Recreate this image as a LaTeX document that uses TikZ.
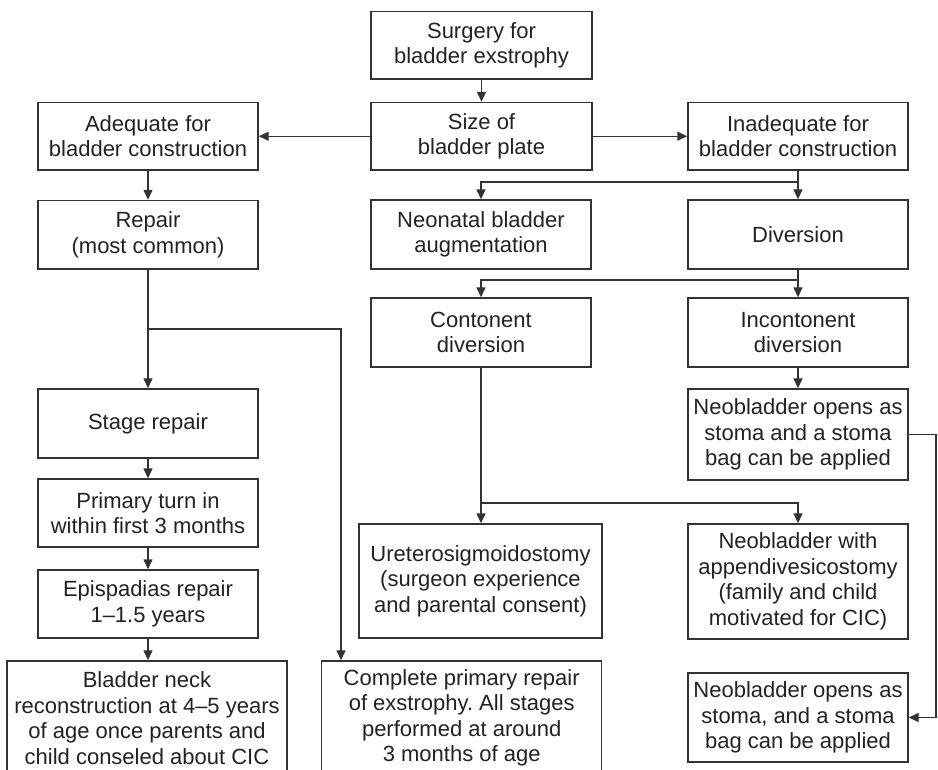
\documentclass[tikz,border=0pt]{standalone}
\usepackage{fontspec}
\setmainfont{Liberation Sans}
\usetikzlibrary{arrows.meta,calc}
\definecolor{linec}{HTML}{333333}
\definecolor{txtc}{HTML}{222222}
\begin{document}
\begin{tikzpicture}[x=1pt,y=-1pt,
  box/.style={draw=linec, line width=1.4pt, fill=white, align=center, inner sep=0pt,
    text=txtc, font=\fontsize{22}{25.5}\selectfont\frenchspacing},
  arr/.style={draw=linec, line width=1.4pt, -{Triangle[length=10pt,width=9pt]}},
  ln/.style={draw=linec, line width=1.4pt}]
\path[fill=white,use as bounding box] (0,0) rectangle (938,770);

% top
\node[box, minimum width=221pt, minimum height=67.5pt] (surg) at (481.5,45.25) {Surgery for\\bladder exstrophy};
\node[box, minimum width=221pt, minimum height=67.5pt] (size) at (481.5,136.25) {Size of\\bladder plate};
\node[box, minimum width=220pt, minimum height=67.5pt] (adeq) at (148,136.25) {Adequate for\\bladder construction};
\node[box, minimum width=220pt, minimum height=67.5pt] (inad) at (798,136.25) {Inadequate for\\bladder construction};

% second row
\node[box, minimum width=220pt, minimum height=68.5pt] (repair) at (148,234.75) {Repair\\(most common)};
\node[box, minimum width=220pt, minimum height=69pt] (neon) at (481,234.5) {Neonatal bladder\\augmentation};
\node[box, minimum width=220pt, minimum height=69pt] (div) at (798,234.5) {Diversion};

% third row
\node[box, minimum width=220pt, minimum height=69pt] (cont) at (481,332.5) {Contonent\\diversion};
\node[box, minimum width=220pt, minimum height=69pt] (incont) at (798,332.5) {Incontonent\\diversion};

% left column
\node[box, minimum width=220pt, minimum height=69pt] (stage) at (148,423.5) {Stage repair};
\node[box, minimum width=220pt, minimum height=68pt] (prim) at (148,513) {Primary turn in\\within first 3 months};
\node[box, minimum width=220pt, minimum height=68pt] (epi) at (148,604) {Epispadias repair\\1–1.5 years};
\node[box, minimum width=280pt, minimum height=114pt] (neck) at (147,718) {Bladder neck\\reconstruction at 4–5 years\\of age once parents and\\child conseled about CIC};
\node[box, minimum width=280pt, minimum height=114pt] (compl) at (461.7,718) {Complete primary repair\\of exstrophy. All stages\\performed at around\\3 months of age};

% right / middle lower
\node[box, minimum width=220pt, minimum height=91pt] (neoa) at (798,434.5) {Neobladder opens as\\stoma and a stoma\\bag can be applied};
\node[box, minimum width=243pt, minimum height=114pt] (ureter) at (480.5,581) {Ureterosigmoidostomy\\(surgeon experience\\and parental consent)};
\node[box, minimum width=220pt, minimum height=115pt] (neob) at (798,581.5) {Neobladder with\\appendivesicostomy\\(family and child\\motivated for CIC)};
\node[box, minimum width=220pt, minimum height=89pt] (neoc) at (798,717.5) {Neobladder opens as\\stoma, and a stoma\\bag can be applied};

% junction coordinates
\coordinate (j1) at (798,182);
\coordinate (j2) at (798,280);
\coordinate (j3) at (481,503);
\coordinate (j4) at (148,329);
\coordinate (j4r) at (341,329);
\coordinate (rx) at (936,0);

% connectors
\draw[arr] (surg.south) -- (size.north);
\draw[arr] (size.west) -- (adeq.east);
\draw[arr] (size.east) -- (inad.west);
\draw[arr] (adeq.south) -- (repair.north);
\draw[arr] (inad.south) -- (div.north);
\draw[arr] (j1) -| (neon.north);
\draw[arr] (div.south) -- (incont.north);
\draw[arr] (j2) -| (cont.north);
\draw[arr] (incont.south) -- (neoa.north);
\draw[arr] (cont.south) -- (cont.south |- ureter.north);
\draw[arr] (j3) -| (neob.north);
\draw[arr] (repair.south) -- (stage.north);
\draw[arr] (j4) -- (j4r) -- (j4r |- compl.north);
\draw[arr] (stage.south) -- (prim.north);
\draw[arr] (prim.south) -- (epi.north);
\draw[arr] (epi.south) -- (epi.south |- neck.north);
\draw[arr] (neoa.east) -- (neoa.east -| rx) |- (neoc.east);
\end{tikzpicture}
\end{document}
